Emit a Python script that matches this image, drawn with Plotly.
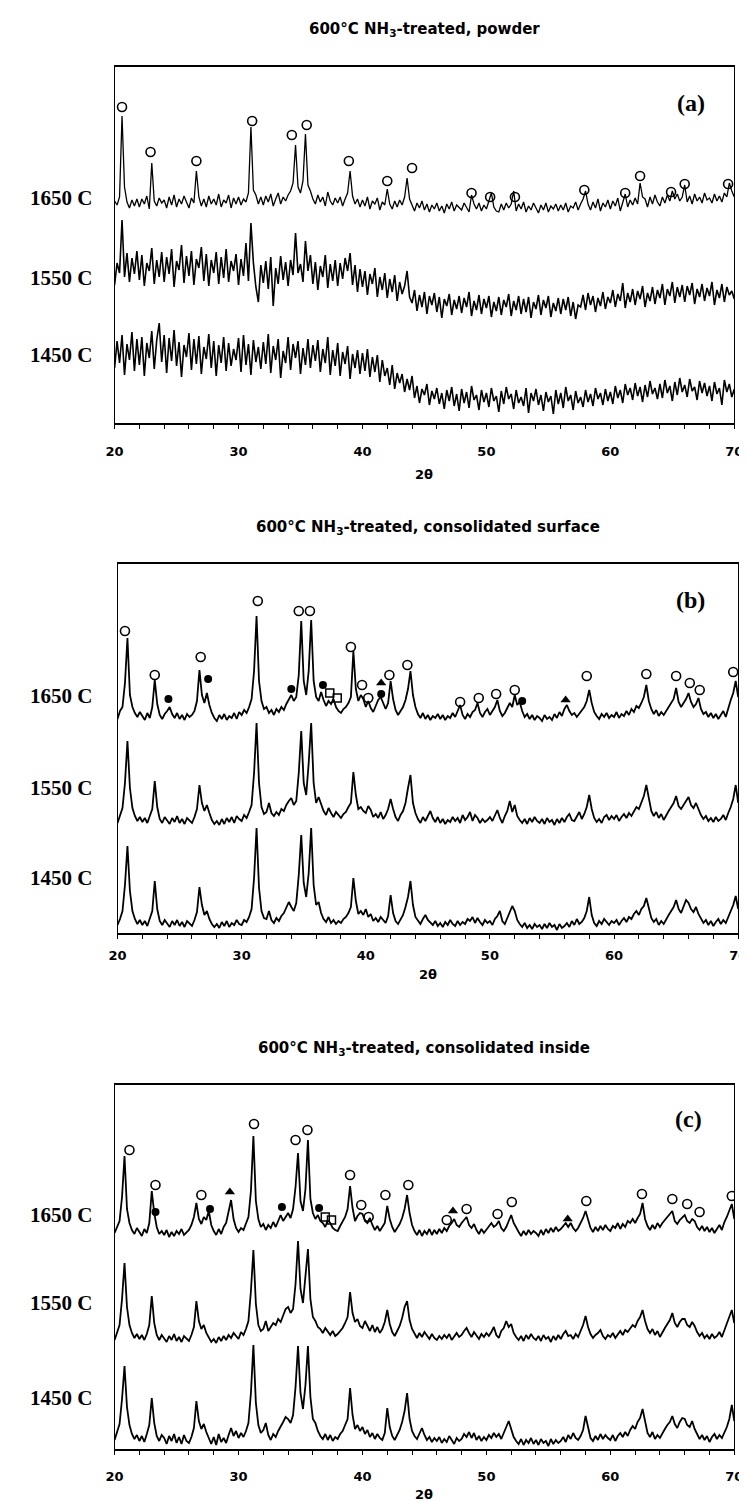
import numpy as np
import plotly.graph_objects as go

# ---------------- data ----------------
# 2-theta sampling grid (degrees)
two_theta = np.round(np.arange(20.0, 70.0001, 0.2), 1)

tick_vals = list(range(20, 71, 2))
tick_text = [str(v) if v % 10 == 0 else "" for v in tick_vals]

row_labels = ["1650 C", "1550 C", "1450 C"]
panel_titles = ["600°C NH<sub>3</sub>-treated, powder",
                "600°C NH<sub>3</sub>-treated, consolidated surface",
                "600°C NH<sub>3</sub>-treated, consolidated inside"]
panel_tags = ["(a)", "(b)", "(c)"]

# ---- panel (a): powder (stacked intensity, a.u.)
a_1650 = [222,218,226,307,236,221,215,223,217,224,
          216,224,219,227,214,260,222,217,225,220,
          223,215,226,218,228,216,224,219,227,221,
          215,225,220,252,226,217,224,216,227,219,
          224,218,229,216,223,220,228,215,225,219,
          226,218,224,221,230,296,233,228,219,226,
          218,227,221,229,217,224,230,219,226,222,
          228,232,240,278,236,230,242,289,238,232,
          224,219,228,221,226,217,231,222,218,225,
          220,226,217,224,230,252,227,219,224,216,
          223,217,226,214,222,219,225,213,221,218,
          234,219,214,222,216,223,218,226,245,224,
          217,212,220,215,222,213,219,211,218,214,
          220,212,217,210,219,214,221,212,218,215,
          213,220,216,211,228,219,214,220,212,218,
          214,221,230,216,212,211,219,213,220,215,
          219,232,212,219,214,221,211,217,213,220,
          215,210,218,213,220,211,217,214,219,212,
          218,213,220,211,217,215,221,213,219,224,
          232,219,213,221,215,224,212,220,216,223,
          214,222,217,225,212,220,229,216,223,218,
          225,219,240,226,224,216,226,219,228,221,
          217,226,220,228,222,232,224,229,222,226,
          238,221,227,219,229,222,226,220,230,223,
          225,220,229,222,227,221,230,226,240,232,
          226]
a_1550 = [138,160,150,203,146,170,141,165,149,172,
          143,168,137,160,152,175,139,163,146,171,
          141,166,149,174,136,162,153,178,140,167,
          147,172,138,164,155,176,142,169,137,163,
          150,171,139,166,145,174,141,162,152,169,
          138,164,147,180,142,200,160,136,121,158,
          140,162,134,166,117,155,139,167,143,161,
          137,163,148,190,150,159,141,182,152,168,
          139,161,133,157,146,168,135,159,142,163,
          137,160,144,165,152,170,138,158,131,154,
          136,152,128,149,139,155,126,146,133,150,
          125,144,131,148,122,141,129,137,152,126,
          120,133,112,128,116,131,109,127,118,130,
          111,126,105,124,117,129,108,123,114,127,
          110,125,116,131,107,122,113,128,109,124,
          115,127,106,121,112,126,108,123,116,129,
          107,122,113,127,109,124,111,126,105,121,
          114,128,108,123,115,127,106,120,112,125,
          109,124,113,126,107,121,104,118,116,128,
          113,130,118,127,111,125,117,131,114,126,
          120,133,116,129,122,140,115,130,121,134,
          118,132,124,137,116,130,122,136,119,133,
          125,139,118,134,127,141,120,136,126,138,
          121,137,128,140,119,134,126,139,122,135,
          127,141,118,133,125,139,121,136,128,132,
          124]
a_1450 = [55,82,60,88,48,79,63,91,52,84,
          58,86,47,80,65,92,54,83,100,61,
          88,50,85,62,93,57,81,46,78,66,
          90,53,84,59,87,49,76,64,89,55,
          82,47,78,60,86,52,80,57,74,63,
          85,51,88,58,79,48,83,61,76,54,
          81,59,89,50,77,63,84,45,72,60,
          86,53,79,65,82,49,75,58,84,55,
          78,62,83,51,74,60,86,48,73,57,
          80,47,71,59,77,44,69,55,73,49,
          70,52,74,46,66,51,68,41,63,47,
          55,38,58,34,50,40,49,31,44,33,
          47,25,37,20,34,28,39,18,32,24,
          35,19,30,14,33,22,36,17,29,12,
          34,20,31,15,37,23,28,13,33,21,
          30,16,35,22,27,11,32,19,36,24,
          29,14,33,20,26,17,35,10,30,22,
          34,18,28,12,31,21,27,9,33,19,
          30,15,36,22,28,13,32,20,26,16,
          33,21,29,17,35,24,30,18,34,22,
          31,19,37,25,33,20,39,28,35,23,
          40,27,36,21,38,26,42,29,35,24,
          39,25,43,30,37,22,41,28,45,31,
          38,26,44,32,36,23,42,30,40,27,
          37,22,41,29,35,18,43,31,39,26,
          34]

# ---- panel (b): consolidated surface
b_1650 = [214,222,226,250,295,238,226,220,216,221,
          217,213,220,215,226,253,229,218,214,219,
          222,226,219,215,220,214,218,213,219,216,
          218,222,232,263,238,230,240,228,220,215,
          212,218,214,219,213,217,215,220,214,221,
          218,223,220,226,234,262,317,252,232,224,
          226,220,223,218,224,221,226,223,229,234,
          238,232,236,258,312,252,238,262,313,252,
          236,232,241,233,227,232,229,234,226,222,
          220,224,226,230,236,282,244,232,238,234,
          226,232,225,221,228,233,236,229,224,230,
          252,234,223,218,222,226,233,244,262,238,
          226,219,215,220,214,218,213,217,215,219,
          214,218,213,217,215,220,216,222,228,218,
          214,219,216,221,223,230,220,216,221,224,
          218,222,226,233,222,217,220,225,230,226,
          238,228,231,222,216,219,214,218,213,217,
          215,212,218,214,216,213,219,215,221,217,
          224,228,222,218,220,216,219,222,226,232,
          243,230,221,217,214,219,216,220,215,218,
          216,221,215,219,217,222,218,224,221,227,
          225,230,236,248,232,224,219,223,217,221,
          218,222,226,230,234,245,231,226,230,234,
          240,231,226,229,235,224,219,221,216,220,
          215,219,214,218,222,216,226,233,240,252,
          236]
b_1550 = [110,118,125,150,192,145,125,117,112,116,
          111,115,110,117,124,152,126,114,110,116,
          113,109,115,111,117,110,114,109,115,112,
          110,116,124,148,130,122,128,120,113,109,
          112,108,114,109,115,111,116,110,117,114,
          112,118,115,121,128,160,210,150,126,119,
          121,130,120,117,121,118,124,122,128,132,
          135,128,132,160,202,150,138,170,210,150,
          130,136,128,122,118,125,120,116,121,118,
          115,119,121,126,130,161,138,124,126,122,
          120,127,123,116,119,115,121,114,118,124,
          134,124,116,112,118,122,130,145,158,130,
          120,114,110,116,112,117,122,115,111,116,
          110,114,109,113,111,116,112,115,110,118,
          113,116,121,112,118,115,110,114,111,113,
          116,112,118,123,115,110,117,122,132,121,
          128,117,113,110,114,109,115,111,116,112,
          110,114,109,115,111,113,108,114,110,115,
          111,116,119,113,112,117,121,114,119,126,
          138,124,115,111,114,110,116,118,113,117,
          114,118,112,116,119,115,120,117,122,126,
          124,131,137,148,133,122,117,121,115,119,
          113,118,122,126,130,137,127,124,128,132,
          136,128,125,130,124,118,114,117,112,115,
          111,116,112,114,118,113,120,126,134,148,
          130]
b_1450 = [8,14,22,48,87,42,22,14,9,13,
          8,12,7,14,22,52,24,12,8,13,
          10,6,12,8,13,7,11,6,12,9,
          7,13,21,46,28,18,22,14,9,6,
          9,5,11,7,12,6,10,8,13,9,
          8,13,11,16,24,55,105,45,22,15,
          14,22,13,10,15,12,17,20,26,31,
          26,22,30,58,98,50,36,60,105,48,
          28,31,20,14,11,16,10,13,9,12,
          10,14,16,20,26,55,32,19,22,18,
          24,16,19,12,15,11,16,13,10,17,
          38,20,12,9,14,18,26,36,52,28,
          16,12,9,14,18,13,10,8,12,7,
          10,6,11,8,13,9,7,12,8,11,
          9,14,12,16,10,15,11,8,13,10,
          12,8,14,17,22,12,9,15,20,27,
          22,13,9,6,10,5,8,4,9,6,
          8,4,9,5,10,6,8,3,9,5,
          7,10,6,12,8,14,9,11,15,22,
          36,18,10,7,12,9,14,11,8,12,
          10,13,8,12,15,11,16,14,19,22,
          18,24,27,35,24,15,11,14,8,12,
          9,14,18,22,26,33,24,20,26,33,
          30,24,21,26,19,14,10,13,8,12,
          7,11,14,9,13,10,16,21,28,37,
          24]

# ---- panel (c): consolidated inside
c_1650 = [216,222,228,252,293,240,226,219,215,221,
          217,213,220,216,226,258,236,222,215,218,
          214,219,212,217,213,218,215,220,214,217,
          219,224,232,246,230,225,232,229,238,224,
          218,214,220,215,222,226,236,249,230,221,
          217,221,219,225,232,258,313,248,230,222,
          225,219,224,221,227,222,229,234,228,232,
          236,231,240,262,296,248,238,260,309,250,
          236,230,234,228,226,222,229,226,221,219,
          218,223,227,232,240,263,241,228,233,236,
          235,228,226,231,224,219,223,218,222,226,
          243,230,222,217,221,225,231,240,254,236,
          224,218,214,219,213,218,215,220,214,219,
          215,220,216,221,218,223,226,230,224,222,
          226,229,232,224,221,225,219,215,220,216,
          219,223,226,222,224,228,221,218,222,228,
          234,226,221,217,213,218,214,219,215,218,
          216,213,219,214,220,216,221,217,222,218,
          220,223,226,222,226,221,218,221,226,231,
          238,228,221,217,222,218,223,219,224,220,
          218,223,221,226,220,225,222,228,226,230,
          226,231,235,246,230,223,219,224,220,226,
          222,226,229,232,234,238,228,225,229,232,
          234,228,226,230,228,222,219,223,218,222,
          217,221,216,220,224,219,227,232,238,245,
          230]
c_1550 = [109,116,124,150,186,142,124,116,111,115,
          110,114,109,115,124,153,126,114,109,114,
          111,107,113,109,115,108,112,107,113,110,
          108,114,122,148,128,120,124,116,111,107,
          110,106,112,108,113,109,114,111,116,113,
          110,117,114,120,128,158,199,145,124,118,
          120,128,118,122,126,124,130,127,134,140,
          142,136,140,165,208,160,146,175,200,150,
          132,128,122,120,116,121,117,114,118,113,
          115,118,121,126,132,157,136,127,130,123,
          121,128,123,118,124,117,122,116,120,127,
          139,125,117,113,118,123,131,142,148,129,
          120,115,111,116,112,117,113,110,115,111,
          109,113,110,114,111,115,109,113,116,112,
          114,118,121,116,112,117,114,110,115,112,
          116,113,117,122,114,111,118,121,128,122,
          125,116,112,109,113,108,114,110,115,111,
          109,113,108,114,110,112,107,113,109,114,
          110,115,118,113,114,110,115,112,118,124,
          133,122,115,111,114,116,119,113,110,114,
          112,116,111,115,118,114,119,117,121,124,
          122,128,132,139,128,120,116,120,114,118,
          112,117,121,125,129,136,126,122,127,130,
          130,124,122,127,123,117,113,116,111,114,
          110,115,111,113,117,112,119,125,132,139,
          126]
c_1450 = [9,16,25,50,83,42,24,15,10,14,
          8,13,7,15,24,51,26,13,8,14,
          11,5,13,8,15,6,12,5,14,8,
          6,12,21,48,28,20,25,17,10,5,
          12,4,15,7,11,6,14,21,13,18,
          11,16,12,18,26,56,104,46,24,16,
          19,26,14,9,15,12,18,22,27,32,
          30,26,34,62,103,56,40,64,103,52,
          30,26,18,13,10,15,9,14,8,12,
          10,15,18,24,30,61,34,20,24,18,
          22,15,19,12,16,10,15,11,9,16,
          41,22,13,9,14,19,27,38,56,30,
          18,13,10,16,21,14,9,12,7,11,
          8,12,6,10,7,13,9,5,11,8,
          10,15,12,17,11,16,9,13,8,12,
          9,14,11,16,12,15,10,17,22,28,
          20,12,8,5,10,4,9,6,11,5,
          9,4,10,6,8,3,10,5,9,6,
          8,12,7,14,10,16,11,9,13,19,
          33,20,11,8,13,9,15,10,14,11,
          9,14,8,13,16,12,17,13,19,23,
          20,27,31,40,26,16,12,17,10,14,
          11,16,20,24,27,33,25,21,27,31,
          30,24,22,28,20,15,10,14,9,13,
          7,12,15,10,14,11,17,22,30,44,
          28]

# ---- phase markers (2-theta, intensity)
a_circ_x = [20.6, 22.9, 26.6, 31.1, 34.3, 35.5, 38.9, 42.0, 44.0, 48.8, 50.3, 52.3,
            57.9, 61.2, 62.4, 64.9, 66.0, 69.5]
a_circ_y = [316, 271, 262, 302, 288, 298, 262, 242, 255, 230, 226, 226,
            233, 230, 247, 231, 239, 239]

b_circ_x = [20.6, 23.0, 26.7, 31.3, 34.6, 35.5, 38.8, 39.7, 40.2, 41.9, 43.35, 47.6,
            49.1, 50.5, 52.0, 57.8, 62.6, 65.0, 66.1, 66.9, 69.6]
b_circ_y = [302, 258, 276, 332, 322, 322, 286, 248, 235, 258, 268, 231,
            235, 239, 243, 257, 259, 257, 250, 243, 261]
b_dot_x = [24.1, 27.3, 34.0, 36.55, 41.24, 52.6]
b_dot_y = [234, 254, 244, 248, 239, 232]
b_tri_x = [41.24, 56.1]
b_tri_y = [250, 233]
b_sq_x = [37.1, 37.7]
b_sq_y = [240, 235]

c_circ_x = [21.2, 23.3, 27.0, 31.25, 34.6, 35.56, 39.0, 39.9, 40.5, 41.85, 43.7, 46.8,
            48.4, 50.9, 52.05, 58.06, 62.55, 65.0, 66.2, 67.2, 69.8]
c_circ_y = [299, 264, 254, 325, 309, 319, 274, 244, 232, 254, 264, 229,
            240, 235, 247, 248, 255, 250, 245, 237, 253]
c_dot_x = [23.3, 27.7, 33.5, 36.5]
c_dot_y = [237, 240, 242, 241]
c_tri_x = [29.3, 47.3, 56.56]
c_tri_y = [257, 238, 230]
c_sq_x = [37.0, 37.5]
c_sq_y = [232, 229]

for name, arr in [("a_1650", a_1650), ("a_1550", a_1550), ("a_1450", a_1450),
                  ("b_1650", b_1650), ("b_1550", b_1550), ("b_1450", b_1450),
                  ("c_1650", c_1650), ("c_1550", c_1550), ("c_1450", c_1450)]:
    assert len(arr) == len(two_theta), (name, len(arr))

# ---------------- figure ----------------
W, H = 747, 1501
BLACK = "black"
SANS = "DejaVu Sans"
SERIF = "Liberation Serif"

panels = [
    dict(sfx="", series=[a_1650, a_1550, a_1450], lw=[1.3, 1.6, 1.6],
         x0=100, x1=735, top=59, bot=415, title_y=21, tag_xy=(691, 95),
         label_y=[225, 145, 68], xlab_y=466, standoff=12,
         circ=(a_circ_x, a_circ_y), dot=([], []), tri=([], []), sq=([], [])),
    dict(sfx="2", series=[b_1650, b_1550, b_1450], lw=[1.8, 1.8, 1.8],
         x0=103, x1=739, top=556, bot=925, title_y=519, tag_xy=(690, 592),
         label_y=[237, 145, 55], xlab_y=966, standoff=6,
         circ=(b_circ_x, b_circ_y), dot=(b_dot_x, b_dot_y), tri=(b_tri_x, b_tri_y),
         sq=(b_sq_x, b_sq_y)),
    dict(sfx="3", series=[c_1650, c_1550, c_1450], lw=[1.8, 1.8, 1.8],
         x0=100, x1=735, top=1077, bot=1441, title_y=1040, tag_xy=(688, 1111),
         label_y=[234, 146, 51], xlab_y=1486, standoff=11,
         circ=(c_circ_x, c_circ_y), dot=(c_dot_x, c_dot_y), tri=(c_tri_x, c_tri_y),
         sq=(c_sq_x, c_sq_y)),
]

fig = go.Figure()
annotations = []
layout_axes = {}

for k, p in enumerate(panels):
    xa, ya = "x" + p["sfx"], "y" + p["sfx"]
    for vals, lw in zip(p["series"], p["lw"]):
        fig.add_trace(go.Scatter(x=two_theta, y=vals, mode="lines",
                                 line=dict(color=BLACK, width=lw),
                                 xaxis=xa, yaxis=ya, hoverinfo="skip",
                                 showlegend=False))
    marker_specs = [("circ", "circle-open", 9, 1.6),
                    ("dot", "circle", 8, 0),
                    ("tri", "triangle-up", 9, 0),
                    ("sq", "square-open", 8, 1.5)]
    for key, sym, size, mlw in marker_specs:
        mx, my = p[key]
        if len(mx) == 0:
            continue
        fig.add_trace(go.Scatter(x=mx, y=my, mode="markers",
                                 marker=dict(symbol=sym, size=size, color=BLACK,
                                             line=dict(color=BLACK, width=mlw)),
                                 xaxis=xa, yaxis=ya, hoverinfo="skip",
                                 showlegend=False))
    yr = p["bot"] - p["top"]
    layout_axes["xaxis" + p["sfx"]] = dict(
        domain=[p["x0"] / W, p["x1"] / W], anchor=ya, range=[20, 70],
        tickmode="array", tickvals=tick_vals, ticktext=tick_text,
        ticks="outside", ticklen=4, tickwidth=1.3, tickcolor=BLACK,
        ticklabelstandoff=p["standoff"],
        showline=True, linewidth=1.6, linecolor=BLACK, mirror=True,
        showgrid=False, zeroline=False,
        tickfont=dict(family=SANS, size=13, color=BLACK, weight="bold"))
    layout_axes["yaxis" + p["sfx"]] = dict(
        domain=[1 - p["bot"] / H, 1 - p["top"] / H], anchor=xa, range=[0, yr],
        showline=True, linewidth=1.4, linecolor=BLACK, mirror=True,
        showticklabels=False, ticks="", showgrid=False, zeroline=False)

    xc = (p["x0"] + p["x1"]) / 2 / W
    annotations.append(dict(text=panel_titles[k], xref="paper", yref="paper",
                            x=xc, y=1 - p["title_y"] / H, xanchor="center",
                            yanchor="middle", showarrow=False,
                            font=dict(family=SANS, size=15,
                                      color=BLACK, weight="bold")))
    annotations.append(dict(text="2θ", xref="paper", yref="paper",
                            x=xc, y=1 - p["xlab_y"] / H, xanchor="center",
                            yanchor="middle", showarrow=False,
                            font=dict(family=SANS, size=13,
                                      color=BLACK, weight="bold")))
    annotations.append(dict(text=panel_tags[k], xref="paper", yref="paper",
                            x=p["tag_xy"][0] / W, y=1 - p["tag_xy"][1] / H,
                            xanchor="center", yanchor="middle", showarrow=False,
                            font=dict(family=SERIF, size=24,
                                      color=BLACK, weight="bold")))
    for lab, ly in zip(row_labels, p["label_y"]):
        annotations.append(dict(text=lab, xref="paper", yref=ya,
                                x=79 / W, y=ly, xanchor="right", yanchor="middle",
                                showarrow=False,
                                font=dict(family=SERIF, size=21,
                                          color=BLACK, weight="bold")))

fig.update_layout(width=W, height=H, margin=dict(l=0, r=0, t=0, b=0),
                  plot_bgcolor="white", paper_bgcolor="white",
                  showlegend=False, annotations=annotations, **layout_axes)

fig.write_html("out.html")
